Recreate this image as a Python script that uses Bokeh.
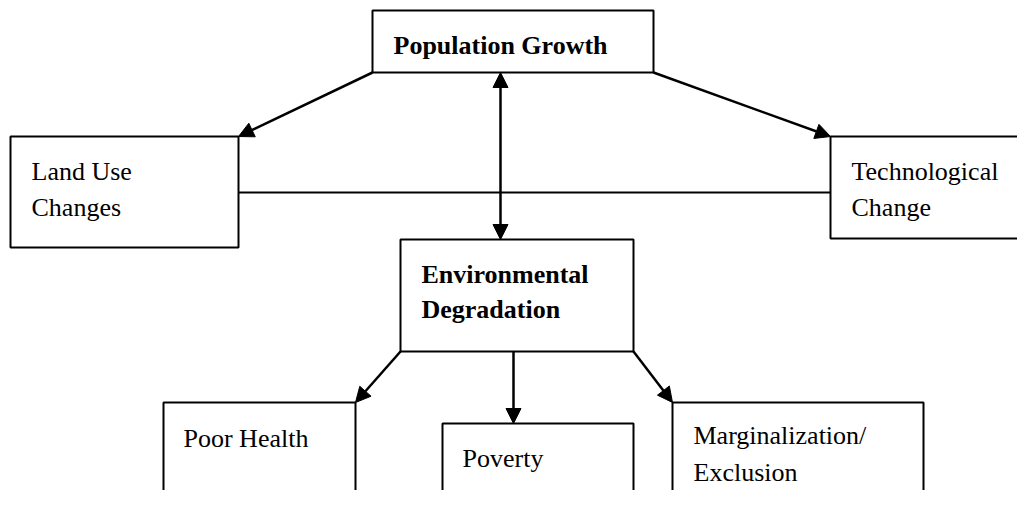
from bokeh.plotting import figure
from bokeh.models import Range1d, Arrow, NormalHead, ColumnDataSource
from bokeh.core.properties import value
from bokeh.embed import file_html
from bokeh.resources import INLINE

# Box layout (left, right, top, bottom) in picture pixels
box_names = ["Population Growth", "Land Use Changes", "Technological Change",
             "Environmental Degradation", "Poor Health", "Poverty", "Marginalization/Exclusion"]
box_left = [372, 10, 830, 400, 163, 442, 672]
box_right = [653, 238, 1045, 633, 355, 633, 923]
box_top = [10, 136, 136, 239, 402, 423, 402]
box_bottom = [72, 247, 238, 351, 520, 520, 520]

# Labels (text lines)
normal_text = ["Land Use", "Changes", "Technological", "Change", "Poor Health", "Poverty",
               "Marginalization/", "Exclusion"]
normal_x = [31, 31, 851, 851, 183, 462, 693, 693]
normal_y = [171, 207, 171, 207, 438, 458, 435, 472]
bold_text = ["Population Growth", "Environmental", "Degradation"]
bold_x = [393, 421, 421]
bold_y = [45, 274, 309]

# Arrows: start, end, double-headed?
arrow_x0 = [372, 653, 500, 400, 513, 633]
arrow_y0 = [72, 72, 72, 351, 351, 351]
arrow_x1 = [238, 830, 500, 355, 513, 672]
arrow_y1 = [136, 136, 239, 402, 423, 402]
arrow_double = [False, False, True, False, False, False]

# Connecting line between Land Use and Technological Change
link_x = [238, 830]
link_y = [192, 192]

FONT = value("'Liberation Serif', 'Times New Roman', serif")

p = figure(width=1017, height=490, output_backend="svg", toolbar_location=None,
           x_range=Range1d(0, 1017), y_range=Range1d(490, 0), min_border=0)
p.axis.visible = False
p.grid.visible = False
p.outline_line_color = None
p.background_fill_color = "white"
p.border_fill_color = "white"

p.line(link_x, link_y, line_color="black", line_width=2)

for x0, y0, x1, y1, dbl in zip(arrow_x0, arrow_y0, arrow_x1, arrow_y1, arrow_double):
    p.add_layout(Arrow(
        end=NormalHead(size=15, fill_color="black", line_color="black", line_width=1),
        start=NormalHead(size=15, fill_color="black", line_color="black", line_width=1) if dbl else None,
        x_start=x0, y_start=y0, x_end=x1, y_end=y1,
        line_color="black", line_width=2.5))

p.quad(left=box_left, right=box_right, top=box_top, bottom=box_bottom,
       fill_color="white", line_color="black", line_width=2)

src_n = ColumnDataSource(dict(x=normal_x, y=normal_y, t=normal_text))
p.text(x="x", y="y", text="t", source=src_n, text_font=FONT,
       text_font_size=value("26px"), text_baseline="alphabetic", text_align="left",
       text_color="black")
src_b = ColumnDataSource(dict(x=bold_x, y=bold_y, t=bold_text))
p.text(x="x", y="y", text="t", source=src_b, text_font=FONT,
       text_font_size=value("26px"), text_font_style="bold", text_baseline="alphabetic",
       text_align="left", text_color="black")

open("out.html", "w").write(file_html(p, INLINE))
